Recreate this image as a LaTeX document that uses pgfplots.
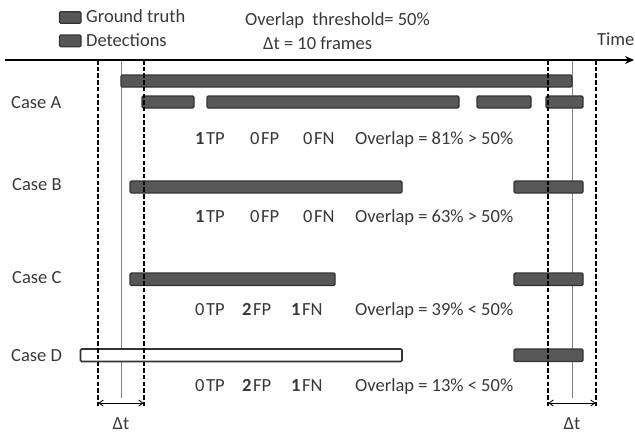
\documentclass[border=0pt]{standalone}
\usepackage{pgfplots}
\pgfplotsset{compat=1.18}
\usepackage{fontspec}
\setmainfont{Carlito}
\usetikzlibrary{arrows.meta}
\definecolor{barfill}{HTML}{575757}
\definecolor{bardraw}{HTML}{333333}
\definecolor{txt}{HTML}{383838}
\definecolor{vline}{HTML}{808080}
\tikzset{t/.style={font=\fontsize{18.5}{22}\selectfont, text=txt, inner sep=0pt, anchor=base west}}
\begin{document}
\begin{tikzpicture}
\begin{axis}[
  scale only axis, width=635pt, height=434pt,
  xmin=0, xmax=635, ymin=0, ymax=434, y dir=reverse,
  axis lines=none, clip=false,
  bar/.style={fill=barfill, draw=bardraw, line width=1.2pt, rounded corners=1.2pt},
  dline/.style={black, line width=1.7pt, dash pattern=on 4.5pt off 2.2pt},
  sline/.style={vline, line width=1pt},
]
% frame for bounding box
\addplot[draw=none, forget plot] coordinates {(0,0) (635,434)};
% solid gray lines
\addplot[sline] coordinates {(121,60) (121,398)};
\addplot[sline] coordinates {(572,60) (572,398)};
% legend boxes
\addplot[bar] coordinates {(59.5,11.7) (81,11.7) (81,23.3) (59.5,23.3)} -- cycle;
\addplot[bar] coordinates {(59.5,35) (81,35) (81,46.7) (59.5,46.7)} -- cycle;
% Case A ground truth
\addplot[bar] coordinates {(121,75) (572,75) (572,87) (121,87)} -- cycle;
% Case A detections
\addplot[bar] coordinates {(142,96) (194,96) (194,108) (142,108)} -- cycle;
\addplot[bar] coordinates {(207,96) (459,96) (459,108) (207,108)} -- cycle;
\addplot[bar] coordinates {(477,96) (531,96) (531,108) (477,108)} -- cycle;
\addplot[bar] coordinates {(546,96) (583,96) (583,108) (546,108)} -- cycle;
% Case B
\addplot[bar] coordinates {(130,181) (402,181) (402,193) (130,193)} -- cycle;
\addplot[bar] coordinates {(514,181) (583,181) (583,193) (514,193)} -- cycle;
% Case C
\addplot[bar] coordinates {(130,273) (335,273) (335,285.5) (130,285.5)} -- cycle;
\addplot[bar] coordinates {(514,273) (583,273) (583,285.5) (514,285.5)} -- cycle;
% Case D
\addplot[fill=white, draw=bardraw, line width=1.6pt, rounded corners=1.2pt] coordinates {(80.5,349) (402,349) (402,361.5) (80.5,361.5)} -- cycle;
\addplot[bar] coordinates {(514,349) (583,349) (583,361.5) (514,361.5)} -- cycle;
% dashed lines
\addplot[dline] coordinates {(98,60) (98,408)};
\addplot[dline] coordinates {(144,60) (144,408)};
\addplot[dline] coordinates {(548,60) (548,408)};
\addplot[dline] coordinates {(596,60) (596,408)};
% time axis
\addplot[black, line width=1.8pt, -{Stealth[length=9pt, width=8pt]}] coordinates {(5,60) (634,60)};
% delta t arrows
\addplot[black, line width=0.9pt, {Straight Barb[length=4pt, width=6pt]}-{Straight Barb[length=4pt, width=6pt]}] coordinates {(98.5,403) (143.5,403)};
\addplot[black, line width=0.9pt, {Straight Barb[length=4pt, width=6pt]}-{Straight Barb[length=4pt, width=6pt]}] coordinates {(548.5,403) (595.5,403)};
% texts
\node[t] at (axis cs:86,22) {Ground truth};
\node[t] at (axis cs:86,46) {Detections};
\node[t] at (axis cs:245,25) {Overlap\ \ threshold= 50\%};
\node[t] at (axis cs:263,49) {Δt = 10 frames};
\node[t] at (axis cs:597,45) {Time};
\node[t] at (axis cs:11,108) {Case A};
\node[t] at (axis cs:12,190) {Case B};
\node[t] at (axis cs:12,283) {Case C};
\node[t] at (axis cs:11,361) {Case D};
\node[t, anchor=base] at (axis cs:121,429) {Δt};
\node[t, anchor=base] at (axis cs:572,429) {Δt};
% row A
\node[t] at (axis cs:195,144) {\textbf{1}\kern1.5pt TP};
\node[t] at (axis cs:250,144) {0\kern1.5pt FP};
\node[t] at (axis cs:303,144) {0\kern1.5pt FN};
\node[t] at (axis cs:355,144) {Overlap = 81\% > 50\%};
% row B
\node[t] at (axis cs:195,222) {\textbf{1}\kern1.5pt TP};
\node[t] at (axis cs:250,222) {0\kern1.5pt FP};
\node[t] at (axis cs:303,222) {0\kern1.5pt FN};
\node[t] at (axis cs:355,222) {Overlap = 63\% > 50\%};
% row C
\node[t] at (axis cs:195,315) {0\kern1.5pt TP};
\node[t] at (axis cs:242,315) {\textbf{2}\kern1.5pt FP};
\node[t] at (axis cs:291,315) {\textbf{1}\kern1.5pt FN};
\node[t] at (axis cs:355,315) {Overlap = 39\% < 50\%};
% row D
\node[t] at (axis cs:195,391) {0\kern1.5pt TP};
\node[t] at (axis cs:242,391) {\textbf{2}\kern1.5pt FP};
\node[t] at (axis cs:291,391) {\textbf{1}\kern1.5pt FN};
\node[t] at (axis cs:355,391) {Overlap = 13\% < 50\%};
\end{axis}
\end{tikzpicture}
\end{document}
